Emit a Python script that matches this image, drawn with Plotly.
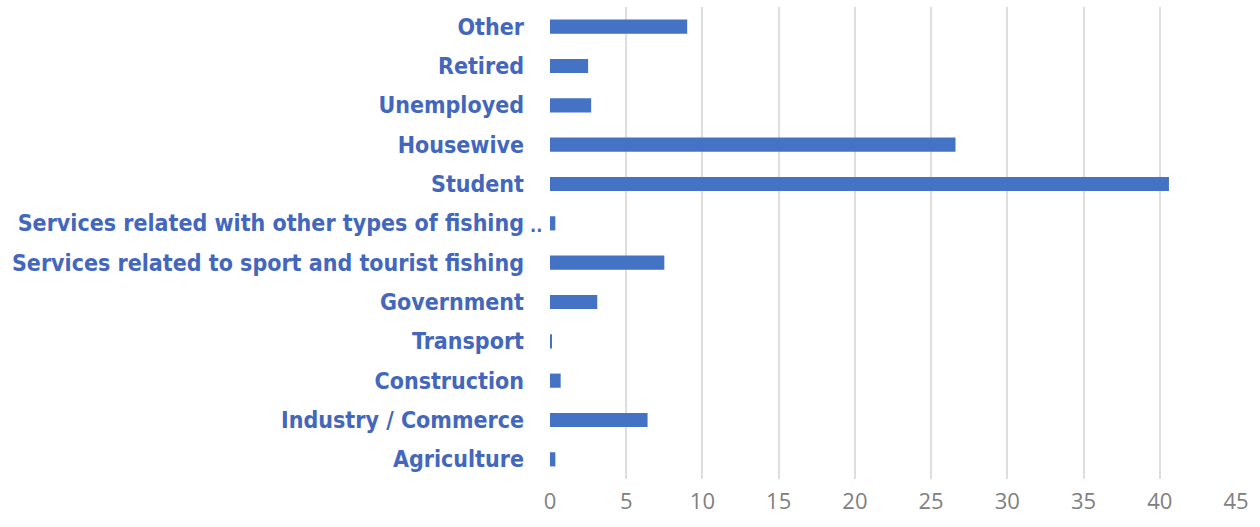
import plotly.graph_objects as go

categories = [
    "Agriculture",
    "Industry / Commerce",
    "Construction",
    "Transport",
    "Government",
    "Services related to sport and tourist fishing",
    "Services related with other types of fishing",
    "Student",
    "Housewive",
    "Unemployed",
    "Retired",
    "Other",
]
values = [0.35, 6.4, 0.7, 0.1, 3.1, 7.5, 0.35, 40.6, 26.6, 2.7, 2.5, 9.0]
x_ticks = [0, 5, 10, 15, 20, 25, 30, 35, 40, 45]

label_font = dict(family="DejaVu Sans Condensed", size=23, color="#4367BC", weight="bold")

fig = go.Figure(
    go.Bar(
        y=categories,
        x=values,
        orientation="h",
        width=0.36,
        marker=dict(color="#4472C4", line=dict(width=0)),
    )
)

# truncation marker after the long fishing label
fig.add_annotation(
    x=0,
    xshift=-14,
    y="Services related with other types of fishing",
    xref="paper",
    yref="y",
    text="..",
    showarrow=False,
    xanchor="center",
    yanchor="middle",
    font=dict(family="DejaVu Sans Condensed", size=18, color="#4367BC", weight="bold"),
    yshift=-2,
)

fig.update_layout(
    width=1260,
    height=527,
    margin=dict(l=550, r=24, t=7, b=48),
    paper_bgcolor="white",
    plot_bgcolor="white",
    showlegend=False,
    bargap=0.64,
)

fig.update_xaxes(
    range=[0, 45],
    tickvals=x_ticks,
    automargin=False,
    showgrid=True,
    gridcolor="#DEDEDE",
    gridwidth=2,
    zeroline=False,
    showline=False,
    ticks="",
    ticklabelstandoff=7,
    tickfont=dict(family="Open Sans", size=22, color="#808080"),
)

fig.update_yaxes(
    type="category",
    categoryorder="array",
    categoryarray=categories,
    range=[-0.5, 11.5],
    automargin=False,
    showgrid=False,
    showline=False,
    zeroline=False,
    ticks="",
    ticklabelstandoff=25,
    tickfont=label_font,
)

fig.write_html("out.html")
